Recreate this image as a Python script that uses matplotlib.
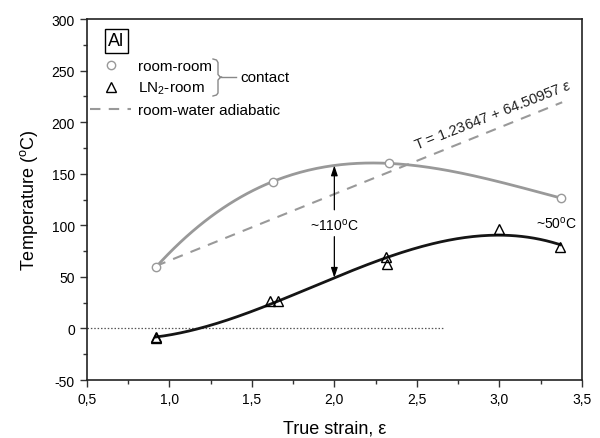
import numpy as np
import matplotlib
matplotlib.use("Agg")
import matplotlib.pyplot as plt
from matplotlib.ticker import MultipleLocator, FuncFormatter

plt.rcParams['font.family'] = ['Liberation Sans', 'DejaVu Sans']
plt.rcParams['mathtext.fontset'] = 'custom'
plt.rcParams['mathtext.rm'] = 'Liberation Sans'
plt.rcParams['mathtext.it'] = 'Liberation Sans:italic'
plt.rcParams['axes.unicode_minus'] = False

# room-room contact (circles)
strain_rr = [0.918, 1.627, 2.334, 3.373]
temp_rr = [59.2, 142.4, 160.0, 126.4]

# LN2-room contact (triangles)
strain_ln = [0.92, 0.92, 1.611, 1.661, 2.314, 2.318, 2.999, 3.369]
temp_ln = [-9.4, -8.0, 26.8, 26.8, 68.9, 62.4, 96.3, 78.6]

# room-water adiabatic fit: T = a + b*eps
fit_a, fit_b = 1.23647, 64.50957
adiab_range = [0.918, 3.38]

zero_line_range = [0.5, 2.66]

gray = '#999999'
fig = plt.figure(figsize=(6, 4.39), dpi=100)
ax = fig.add_axes([0.1445, 0.1321, 0.8255, 0.8223])

# smooth curves through the points (polynomial fits)
p_rr = np.polyfit(strain_rr, temp_rr, 3)
p_ln = np.polyfit(strain_ln, temp_ln, 3)
xs_rr = np.linspace(min(strain_rr), max(strain_rr), 200)
xs_ln = np.linspace(min(strain_ln), max(strain_ln), 200)
ax.plot(xs_rr, np.polyval(p_rr, xs_rr), color=gray, lw=2.0, zorder=2)
ax.plot(xs_ln, np.polyval(p_ln, xs_ln), color='#151515', lw=2.0, zorder=2)

xa = np.array(adiab_range)
adiab, = ax.plot(xa, fit_a + fit_b * xa, color=gray, lw=1.5, ls=(0, (5, 4)), zorder=1,
                 label='room-water adiabatic')
rr, = ax.plot(strain_rr, temp_rr, 'o', ms=6, mfc='white', mec=gray, mew=1.0, zorder=3,
              label='room-room')
ln, = ax.plot(strain_ln, temp_ln, '^', ms=7.5, mfc='none', mec='black', mew=1.0, zorder=3,
              label=r'LN$_\mathrm{2}$-room')

ax.plot(zero_line_range, [0, 0], color='#555555', lw=0.9, ls=(0, (1.2, 1.5)), zorder=1)

# temperature difference arrows at eps = 2.0
xa0 = 2.0
top = np.polyval(p_rr, xa0)
bot = np.polyval(p_ln, xa0)
ax.annotate('', xy=(xa0, top), xytext=(xa0, 115),
            arrowprops=dict(arrowstyle='-|>,head_length=0.6,head_width=0.2', color='black',
                            lw=0.9, mutation_scale=10, shrinkA=0, shrinkB=0))
ax.annotate('', xy=(xa0, bot), xytext=(xa0, 89),
            arrowprops=dict(arrowstyle='-|>,head_length=0.6,head_width=0.2', color='black',
                            lw=0.9, mutation_scale=10, shrinkA=0, shrinkB=0))
ax.text(xa0, 101, r'~110$^\mathrm{o}$C', ha='center', va='center', fontsize=10)
ax.text(3.344, 103, r'~50$^\mathrm{o}$C', ha='center', va='center', fontsize=10)

ax.text(2.5, 171, r'T = 1.23647 + 64.50957 $\varepsilon$', rotation=21.5,
        rotation_mode='anchor', ha='left', va='bottom', fontsize=10.5, color='#222222')

ax.set_xlim(0.5, 3.5)
ax.set_ylim(-50, 300)
ax.xaxis.set_major_locator(MultipleLocator(0.5))
ax.xaxis.set_minor_locator(MultipleLocator(0.25))
ax.yaxis.set_major_locator(MultipleLocator(50))
ax.yaxis.set_minor_locator(MultipleLocator(25))
ax.xaxis.set_major_formatter(FuncFormatter(lambda v, p: f'{v:.1f}'.replace('.', ',')))
ax.tick_params(which='both', direction='out', top=False, right=False, labelsize=10,
               color='#333333', width=1.0)
ax.tick_params(which='major', length=5)
ax.tick_params(which='minor', length=3)
for s in ax.spines.values():
    s.set_color('#222222')
    s.set_linewidth(1.2)

ax.set_xlabel('True strain, ε', fontsize=13, labelpad=10)
ax.set_ylabel(r'Temperature ($^\mathrm{o}$C)', fontsize=13, labelpad=8)

leg = ax.legend(handles=[rr, ln, adiab], loc='upper left', bbox_to_anchor=(0.0067, 0.889),
                frameon=False, fontsize=11, handlelength=2.7, handletextpad=0.45,
                labelspacing=0.45, borderpad=0, borderaxespad=0)

# "Al" label box
ax.text(0.06, 0.94, 'Al', transform=ax.transAxes, ha='center', va='center', fontsize=13,
        bbox=dict(boxstyle='square,pad=0.2', fc='white', ec='black', lw=1.0))


def px(x, y):
    return (x / 600.0, 1 - y / 439.0)


bx = [213, 216.5, 218, 218, 220, 222, 220, 218, 218, 216.5, 213]
by = [60, 61, 63.5, 75.5, 77.8, 78.3, 78.8, 81, 94, 96, 97]
pts = [px(x, y) for x, y in zip(bx, by)]
fig.lines.append(plt.Line2D([p[0] for p in pts], [p[1] for p in pts],
                            transform=fig.transFigure, color='#888888', lw=1.0))
p1, p2 = px(222, 78.3), px(236, 78.3)
fig.lines.append(plt.Line2D([p1[0], p2[0]], [p1[1], p2[1]], transform=fig.transFigure,
                            color='#888888', lw=1.0))
fig.text(*px(240, 78.3), 'contact', ha='left', va='center', fontsize=11)

fig.savefig('out.png', dpi=100)
